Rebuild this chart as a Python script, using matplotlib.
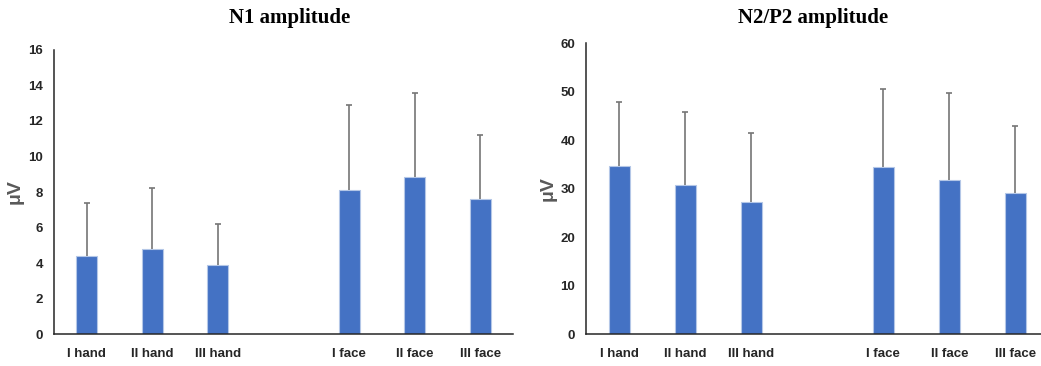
import numpy as np
import matplotlib.pyplot as plt

conditions = ['I hand', 'II hand', 'III hand', 'I face', 'II face', 'III face']
# slot 3 is left empty to separate hand and face conditions
positions = [0, 1, 2, 4, 5, 6]

n1_mean = [4.4, 4.8, 3.9, 8.1, 8.85, 7.6]
n1_sd = [3.0, 3.4, 2.3, 4.8, 4.7, 3.6]

n2p2_mean = [34.8, 30.8, 27.3, 34.4, 31.8, 29.1]
n2p2_sd = [13.2, 15.0, 14.3, 16.1, 18.0, 13.8]

bar_color = '#4472C4'
err_color = '#767676'
tick_font = dict(family='Liberation Sans', weight='bold', size=9.5, color='#262626')


def draw_panel(ax, means, sds, ymax, step, title, title_x):
    ax.bar(positions, means, width=0.32, color=bar_color,
           edgecolor='#b4c7e7', linewidth=0.8, zorder=2)
    _, caps, _ = ax.errorbar(positions, means, yerr=[np.zeros(len(sds)), sds],
                             fmt='none', ecolor=err_color, elinewidth=1.2,
                             capsize=2, capthick=1.2, zorder=3)
    # only the upper half of each error bar is shown
    caps[0].set_visible(False)
    ax.set_xlim(-0.5, 6.5)
    ax.set_ylim(0, ymax)
    ax.set_yticks(np.arange(0, ymax + 1, step))
    ax.set_xticks(positions)
    ax.set_xticklabels(conditions, fontdict=tick_font)
    for lbl in ax.get_yticklabels():
        lbl.set(**tick_font)
    ax.tick_params(length=0)
    ax.tick_params(axis='y', pad=8)
    ax.tick_params(axis='x', pad=10)
    for side in ['top', 'right']:
        ax.spines[side].set_visible(False)
    for side in ['left', 'bottom']:
        ax.spines[side].set_color('#262626')
        ax.spines[side].set_linewidth(1.1)
    ax.set_ylabel('μV', family='Liberation Sans', weight='bold',
                  size=14, color='#595959', labelpad=3)
    fig.text(title_x, 1 - 18 / 366, title,
             family='Liberation Serif', weight='bold', size=15,
             ha='center', va='center')


fig = plt.figure(figsize=(10.41, 3.66), dpi=100)
ax1 = fig.add_axes([0.0519, 0.0874, 0.441, 0.776])
ax2 = fig.add_axes([0.5632, 0.0866, 0.4438, 0.795])

draw_panel(ax1, n1_mean, n1_sd, 16, 2, 'N1 amplitude', 290 / 1041)
draw_panel(ax2, n2p2_mean, n2p2_sd, 60, 10, 'N2/P2 amplitude', 813 / 1041)

fig.savefig('out.png', dpi=100)
